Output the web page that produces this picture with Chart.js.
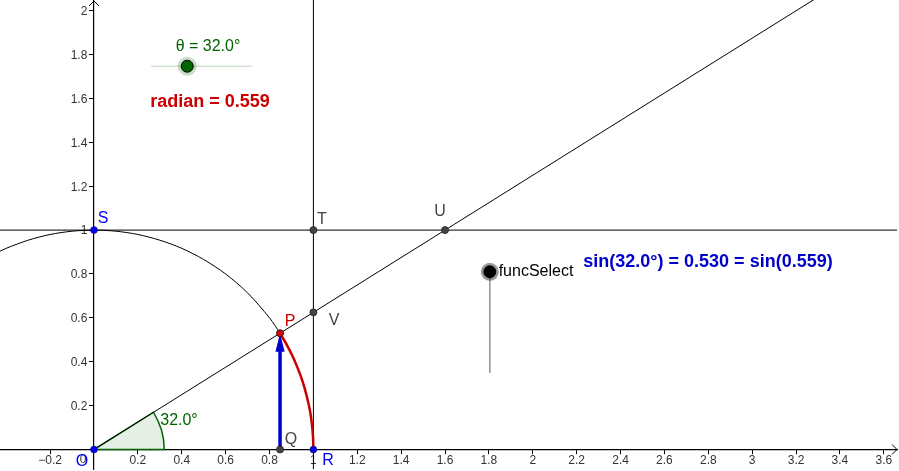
<!DOCTYPE html>
<html>
<head>
<meta charset="utf-8">
<title>Sine of an angle</title>
<style>
  html, body { margin: 0; padding: 0; background: #fff; overflow: hidden; }
  canvas { display: block; }
</style>
<script src="https://cdn.jsdelivr.net/npm/chart.js@4"></script>
</head>
<body>
<canvas id="chart" width="899" height="471"></canvas>
<script>
// axis ticks
var xTicks = [-0.2, 0, 0.2, 0.4, 0.6, 0.8, 1, 1.2, 1.4, 1.6, 1.8, 2, 2.2, 2.4, 2.6, 2.8, 3, 3.2, 3.4, 3.6];
var yTicks = [0.2, 0.4, 0.6, 0.8, 1, 1.2, 1.4, 1.6, 1.8, 2];

// unit circle
var circleX = [-0.43, -0.4, -0.3, -0.2, -0.1, 0, 0.1, 0.2, 0.3, 0.4, 0.5, 0.6, 0.7, 0.8, 0.848];
var circleY = [0.903, 0.917, 0.954, 0.98, 0.995, 1, 0.995, 0.98, 0.954, 0.917, 0.866, 0.8, 0.714, 0.6, 0.53];

// red arc P -> R
var arcX = [0.848, 0.88, 0.91, 0.94, 0.96, 0.98, 0.99, 0.998, 1];
var arcY = [0.53, 0.475, 0.415, 0.341, 0.28, 0.199, 0.141, 0.063, 0];

// angle sector at O
var sectorX = [0, 0.32, 0.317, 0.308, 0.292, 0.271, 0];
var sectorY = [0, 0, 0.045, 0.088, 0.13, 0.17, 0];

// ray and the two lines
var rayX = [0, 3.285];
var rayY = [0, 2.053];
var vLineX = [1, 1];
var vLineY = [-0.1, 2.06];
var hLineX = [-0.43, 3.68];
var hLineY = [1, 1];

// sine vector Q -> P and its head
var vectorX = [0.848, 0.848];
var vectorY = [0, 0.47];
var headX = [0.827, 0.848, 0.869, 0.827];
var headY = [0.445, 0.53, 0.445, 0.445];

// named points
var blueX = [0, 1, 0];
var blueY = [0, 0, 1];
var grayX = [0.848, 1, 1, 1.6];
var grayY = [0, 1, 0.625, 1];
var redX = [0.848];
var redY = [0.53];

// sliders
var thetaTrackX = [0.26, 0.721];
var thetaTrackY = [1.747, 1.747];
var thetaKnobX = [0.425];
var thetaKnobY = [1.747];
var funcTrackX = [1.804, 1.804];
var funcTrackY = [0.81, 0.349];
var funcKnobX = [1.804];
var funcKnobY = [0.81];

function toPoints(xs, ys) {
    return xs.map(function (x, i) {
        return { x: x, y: ys[i] };
    });
}

function line(xs, ys, color, width, extra) {
    return Object.assign({
        data: toPoints(xs, ys),
        showLine: true,
        borderColor: color,
        borderWidth: width,
        pointRadius: 0,
        fill: false
    }, extra || {});
}

function dots(xs, ys, color, radius, border, borderWidth) {
    return {
        data: toPoints(xs, ys),
        showLine: false,
        backgroundColor: color,
        borderColor: border,
        borderWidth: borderWidth,
        pointRadius: radius
    };
}

// axes sit inside the plot, so they must not shrink it
function noPadding(scale) {
    scale.paddingLeft = 0;
    scale.paddingRight = 0;
    scale.paddingTop = 0;
    scale.paddingBottom = 0;
}

Chart.defaults.font.family = '"Liberation Sans", Arial, sans-serif';
Chart.defaults.font.size = 12;

// texts and the small arrows at the axis ends
var decorations = {
    id: 'decorations',
    afterDatasetsDraw: function (chart) {
        var c = chart.ctx;
        var texts = [
            ['0', 83, 460, '#333', '12px'],
            ['O', 82, 462, '#0000ff', '16px'],
            ['R', 328, 461, '#0000ff', '16px'],
            ['S', 103, 219, '#0000ff', '16px'],
            ['T', 322, 220, '#444', '16px'],
            ['U', 440, 212, '#444', '16px'],
            ['V', 334, 321, '#444', '16px'],
            ['P', 290, 322, '#cc0000', '16px'],
            ['Q', 291, 440, '#444', '16px'],
            ['32.0°', 179, 421, '#006400', '16px'],
            ['θ = 32.0°', 208, 47, '#006400', '16px'],
            ['radian = 0.559', 210, 102, '#cc0000', 'bold 18px'],
            ['funcSelect', 536, 272, '#000', '16px'],
            ['sin(32.0°) = 0.530 = sin(0.559)', 708, 262, '#0000cc', 'bold 18px']
        ];
        c.save();
        c.textAlign = 'center';
        c.textBaseline = 'middle';
        texts.forEach(function (t) {
            c.fillStyle = t[3];
            c.font = t[4] + ' "Liberation Sans", Arial, sans-serif';
            c.fillText(t[0], t[1], t[2]);
        });

        var ox = chart.scales.x.getPixelForValue(0);
        var oy = chart.scales.y.getPixelForValue(0);
        c.strokeStyle = '#000';
        c.lineWidth = 1;
        c.beginPath();
        c.moveTo(ox - 5, 6);
        c.lineTo(ox, 1);
        c.lineTo(ox + 5, 6);
        c.moveTo(892, oy - 5);
        c.lineTo(897, oy);
        c.lineTo(892, oy + 5);
        c.stroke();
        c.restore();
    }
};

new Chart(document.getElementById('chart'), {
    type: 'scatter',
    plugins: [decorations],
    data: {
        // first dataset ends up on top
        datasets: [
            dots(funcKnobX, funcKnobY, '#000', 6, '#000', 1),
            dots(funcKnobX, funcKnobY, 'rgba(0,0,0,0.4)', 9, 'rgba(0,0,0,0)', 0),
            dots(thetaKnobX, thetaKnobY, '#006400', 6, '#000', 1),
            dots(thetaKnobX, thetaKnobY, 'rgba(0,100,0,0.22)', 9.5, 'rgba(0,0,0,0)', 0),
            dots(redX, redY, '#e00000', 3.5, '#222', 1),
            dots(blueX, blueY, '#0000ff', 3.5, '#222', 0.5),
            dots(grayX, grayY, '#444', 3.5, '#222', 0.8),
            line(headX, headY, '#0000cc', 0, { fill: 'shape', backgroundColor: '#0000cc' }),
            line(vectorX, vectorY, '#0000cc', 3.5),
            line(arcX, arcY, '#cc0000', 2.5, { tension: 0.3 }),
            line(circleX, circleY, '#000', 1, { tension: 0.3 }),
            line(rayX, rayY, '#000', 1),
            line(vLineX, vLineY, '#000', 1),
            line(hLineX, hLineY, '#000', 1),
            line(sectorX, sectorY, '#006400', 1.5, { fill: 'shape', backgroundColor: 'rgba(0,100,0,0.1)' }),
            line(thetaTrackX, thetaTrackY, 'rgba(0,100,0,0.25)', 1),
            line(funcTrackX, funcTrackY, '#999', 1)
        ]
    },
    options: {
        responsive: false,
        animation: false,
        layout: { padding: { right: 2, bottom: 2 }, autoPadding: false },
        plugins: {
            legend: { display: false },
            tooltip: { enabled: false }
        },
        scales: {
            x: {
                type: 'linear',
                position: { y: 0 },
                min: -0.4284,
                max: 3.66,
                afterBuildTicks: function (scale) {
                    scale.ticks = xTicks.map(function (v) { return { value: v }; });
                },
                afterFit: noPadding,
                grid: { display: true, drawOnChartArea: false, drawTicks: true, tickLength: 4, color: '#000' },
                border: { display: true, color: '#000', width: 1.2 },
                ticks: {
                    color: '#333',
                    padding: 0,
                    maxRotation: 0,
                    autoSkip: false,
                    callback: function (v) {
                        if (v === 0) return '';
                        return String(v).replace('-', '\u2212');
                    }
                }
            },
            y: {
                type: 'linear',
                position: { x: 0 },
                min: -0.0889,
                max: 2.0488,
                afterBuildTicks: function (scale) {
                    scale.ticks = yTicks.map(function (v) { return { value: v }; });
                },
                afterFit: noPadding,
                grid: { display: true, drawOnChartArea: false, drawTicks: true, tickLength: 4, color: '#000' },
                border: { display: true, color: '#000', width: 1.2 },
                ticks: {
                    color: '#333',
                    padding: 3,
                    autoSkip: false,
                    labelOffset: 1,
                    // labels are right aligned on the axis itself, the gap keeps them off the ticks
                    callback: function (v) { return v + '\u00a0\u00a0'; }
                }
            }
        }
    }
});
</script>
</body>
</html>
